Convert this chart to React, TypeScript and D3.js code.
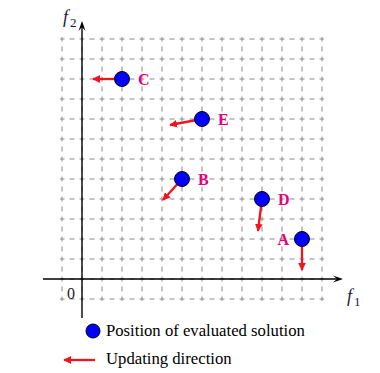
import React from "react";
import * as d3 from "d3";

const names = ["C", "E", "B", "D", "A"];
const f1Values = [2, 6, 5, 9, 11];
const f2Values = [10, 8, 5, 4, 2];
const dirF1 = [0.55, 4.4, 4.05, 8.8, 11];
const dirF2 = [10, 7.7, 3.95, 2.4, 0.45];
const labelSide = ["right", "right", "right", "right", "left"];
const gridTicks = d3.range(-1, 13);
const legendItems = ["Position of evaluated solution", "Updating direction"];

const W = 380, H = 373;
const RED = "#f0141e";
const PINK = "#e6007e";
const BLUE = "#0000ff";
const SERIF = "Liberation Serif, DejaVu Serif, Times New Roman, serif";

export default function App() {
  const x = d3.scaleLinear().domain([-1, 12]).range([62, 322]);
  const y = d3.scaleLinear().domain([-1, 12]).range([299, 39]);
  return (
    <svg width={W} height={H} style={{ position: "absolute", left: 0, top: 0, background: "#fff", fontFamily: SERIF }}>
      <defs>
        <marker id="ah" viewBox="0 0 10 10" refX="9" refY="5" markerWidth="3.4" markerHeight="3.4" orient="auto" markerUnits="strokeWidth">
          <path d="M0,0 L10,5 L0,10 Z" fill={RED} />
        </marker>
      </defs>
      {gridTicks.map((t) => (
        <line key={"v" + t} x1={x(t)} x2={x(t)} y1={y(12) - 2} y2={y(-1) + 2} stroke="#8a8a8a" strokeWidth={1} strokeDasharray="5,5" strokeDashoffset={0.5} />
      ))}
      {gridTicks.map((t) => (
        <line key={"h" + t} x1={x(-1) - 2} x2={x(12) + 2} y1={y(t)} y2={y(t)} stroke="#8a8a8a" strokeWidth={1} strokeDasharray="5,5" strokeDashoffset={0.5} />
      ))}
      <line x1={x(0)} x2={x(0)} y1={318} y2={24} stroke="#000" strokeWidth={1.4} />
      <path d={`M${x(0) - 3.5},${31} L${x(0)},${21} L${x(0) + 3.5},${31} L${x(0)},${27} Z`} fill="#000" />
      <line x1={43} x2={340} y1={y(0)} y2={y(0)} stroke="#000" strokeWidth={1.4} />
      <path d={`M${333},${y(0) - 3.5} L${343},${y(0)} L${333},${y(0) + 3.5} L${337},${y(0)} Z`} fill="#000" />
      <text x={63} y={23} fontSize={18} fontStyle="italic" fill="#1a1a3a">f</text>
      <text x={70} y={27} fontSize={13} fill="#1a1a3a">2</text>
      <text x={347} y={302} fontSize={18} fontStyle="italic" fill="#1a1a3a">f</text>
      <text x={354} y={306} fontSize={13} fill="#1a1a3a">1</text>
      <text x={67} y={299} fontSize={16} fill="#222">0</text>
      {names.map((n, i) => (
        <line key={"a" + n} x1={x(f1Values[i])} y1={y(f2Values[i])} x2={x(dirF1[i])} y2={y(dirF2[i])} stroke={RED} strokeWidth={2.3} markerEnd="url(#ah)" />
      ))}
      {names.map((n, i) => (
        <circle key={"c" + n} cx={x(f1Values[i])} cy={y(f2Values[i])} r={7.5} fill={BLUE} stroke="#000" strokeWidth={1} />
      ))}
      {names.map((n, i) => (
        <text key={"t" + n} x={labelSide[i] === "right" ? x(f1Values[i]) + 16 : x(f1Values[i]) - 13} y={y(f2Values[i]) + 5.5}
          textAnchor={labelSide[i] === "right" ? "start" : "end"} fontSize={16} fontWeight="bold" fill={PINK}>{n}</text>
      ))}
      <circle cx={93} cy={331} r={7} fill={BLUE} stroke="#000" strokeWidth={1} />
      <text x={106} y={336} fontSize={16.7} fill="#000">{legendItems[0]}</text>
      <line x1={95} x2={64} y1={360} y2={360} stroke={RED} strokeWidth={2.3} markerEnd="url(#ah)" />
      <text x={106} y={364} fontSize={16.7} fill="#000">{legendItems[1]}</text>
    </svg>
  );
}
